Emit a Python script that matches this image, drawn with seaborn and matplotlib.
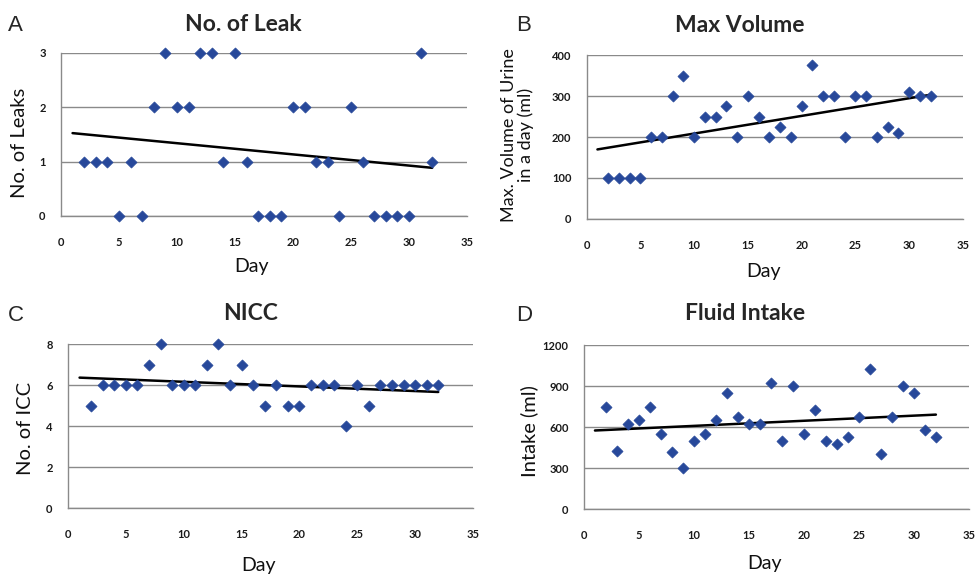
import numpy as np
import pandas as pd
import matplotlib
matplotlib.use("Agg")
import matplotlib.pyplot as plt
import seaborn as sns

# Days (same for all four panels)
days = list(range(2, 33))

leaks = [1, 1, 1, 0, 1, 0, 2, 3, 2, 2, 3, 3, 1, 3, 1, 0, 0, 0, 2, 2, 1, 1, 0, 2, 1, 0, 0, 0, 0, 3, 1]
max_volume = [100, 100, 100, 100, 200, 200, 300, 350, 200, 250, 250, 275, 200, 300, 250, 200,
              225, 200, 275, 375, 300, 300, 200, 300, 300, 200, 225, 210, 310, 300, 300]
nicc = [5, 6, 6, 6, 6, 7, 8, 6, 6, 6, 7, 8, 6, 7, 6, 5, 6, 5, 5, 6, 6, 6, 4, 6, 5, 6, 6, 6, 6, 6, 6]
intake = [750, 425, 625, 650, 750, 550, 420, 300, 500, 550, 650, 850, 675, 625, 625, 925,
          500, 900, 550, 725, 500, 475, 525, 675, 1025, 400, 675, 900, 850, 575, 525]

trend_x = [1, 32]

sns.set_style("white")
plt.rcParams['font.family'] = ['Lato', 'DejaVu Sans']

fig = plt.figure(figsize=(9.77, 5.76), dpi=100)

panels = [
    # letter, title, ylabel, values, yticks, axes rect, letter pos, title pos, ylabel pos, ylabel size, xlabel y
    ("A", "No. of Leak", "No. of Leaks", leaks, [0, 1, 2, 3],
     [0.0624, 0.625, 0.4156, 0.2835], (0.008, 0.955), (0.249, 0.957), (0.02, 0.752), 14.5, 0.538),
    ("B", "Max Volume", "Max. Volume of Urine\nin a day (ml)", max_volume, [0, 100, 200, 300, 400],
     [0.6005, 0.6198, 0.385, 0.2847], (0.528, 0.955), (0.757, 0.955), (0.530, 0.766), 13, 0.528),
    ("C", "NICC", "No. of ICC", nicc, [0, 2, 4, 6, 8],
     [0.0696, 0.118, 0.4145, 0.2847], (0.008, 0.452), (0.256, 0.455), (0.026, 0.257), 14.5, 0.019),
    ("D", "Fluid Intake", "Intake (ml)", intake, [0, 300, 600, 900, 1200],
     [0.5977, 0.1163, 0.394, 0.2847], (0.528, 0.452), (0.763, 0.455), (0.542, 0.252), 14.5, 0.022),
]

grey = "#8a8a8a"
blue = "#27489a"

for letter, title, ylabel, vals, yticks, rect, lpos, tpos, ylpos, ylsize, xly in panels:
    ax = fig.add_axes(rect)
    df = pd.DataFrame({"Day": days, "Value": vals})

    # linear trend line (Excel-style), drawn from day 1 to day 32
    coef = np.polyfit(df["Day"], df["Value"], 1)
    trend = pd.DataFrame({"Day": trend_x, "Value": np.polyval(coef, trend_x)})
    sns.lineplot(data=trend, x="Day", y="Value", color="black", linewidth=1.8, ax=ax, zorder=3)

    sns.scatterplot(data=df, x="Day", y="Value", marker="D", s=32, color=blue,
                    edgecolor=blue, linewidth=0.5, ax=ax, zorder=4, clip_on=False)

    ax.set_xlim(0, 35)
    ax.set_ylim(yticks[0], yticks[-1])
    ax.set_xticks(range(0, 36, 5))
    ax.set_yticks(yticks)
    ax.yaxis.grid(True, color=grey, linewidth=1.0)
    ax.xaxis.grid(False)
    ax.set_axisbelow(True)
    for side in ["top", "right"]:
        ax.spines[side].set_visible(False)
    for side in ["left", "bottom"]:
        ax.spines[side].set_color(grey)
        ax.spines[side].set_linewidth(1.0)
    ax.tick_params(axis="both", direction="out", length=4, width=1.0, color=grey,
                   labelsize=8, labelcolor="#1a1a1a")
    ax.tick_params(axis="x", pad=11)
    ax.tick_params(axis="y", pad=7)
    for lab in ax.get_xticklabels() + ax.get_yticklabels():
        lab.set_fontweight("bold")

    ax.set_xlabel("")
    ax.set_ylabel("")
    cx = rect[0] + rect[2] * 0.47
    fig.text(cx, xly, "Day", fontsize=14, ha="center", va="center", color="#111111")
    fig.text(ylpos[0], ylpos[1], ylabel, rotation=90, fontsize=ylsize, ha="center", va="center",
             linespacing=1.05, color="#111111")
    fig.text(tpos[0], tpos[1], title, fontsize=16.5, fontweight="bold", ha="center", va="center")
    fig.text(lpos[0], lpos[1], letter, fontsize=16, ha="left", va="center",
             family=["Liberation Sans", "DejaVu Sans"])

fig.savefig("out.png", dpi=100, facecolor="white")
